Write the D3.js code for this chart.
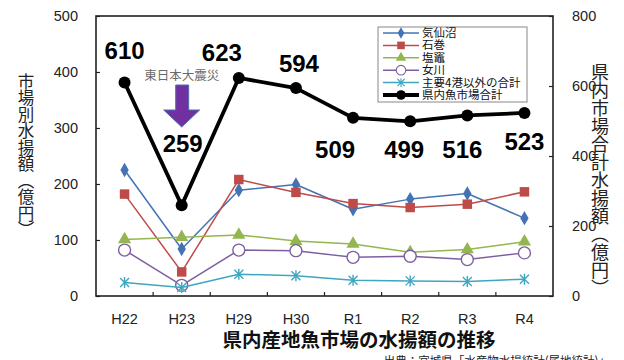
<!DOCTYPE html>
<html>
<head>
<meta charset="utf-8">
<script src="https://cdn.jsdelivr.net/npm/d3@7"></script>
<style>
  html, body { margin: 0; padding: 0; background: #fff; }
  svg { display: block; }
</style>
</head>
<body>
<svg id="chart" width="624" height="360"></svg>
<script>
// Fiscal years
const years = ["H22", "H23", "H29", "H30", "R1", "R2", "R3", "R4"];

// Landing value per market (億円), left axis
const kesennuma = [225, 84, 189, 199, 155, 173, 183, 139];
const ishinomaki = [182, 43, 208, 185, 165, 158, 164, 186];
const shiogama = [101, 105, 109, 98, 93, 78, 83, 97];
const onagawa = [82, 19, 82, 81, 69, 71, 65, 77];
const others = [24, 15, 39, 36, 28, 27, 26, 30];

// Prefecture-wide total (億円), right axis
const total = [610, 259, 623, 594, 509, 499, 516, 523];

const leftTicks = [0, 100, 200, 300, 400, 500];
const rightTicks = [0, 200, 400, 600, 800];

const seriesNames = ["気仙沼", "石巻", "塩竈", "女川", "主要4港以外の合計", "県内魚市場合計"];

// Offsets of the total value labels from their points
const labelDx = [0, 1, -17, 3, -18, -6, -5, 0];
const labelDy = [-24, -53, -17, -16, 40, 37, 43, 37];

const svg = d3.select("#chart");
const W = 624, H = 360;
const plot = { left: 96, right: 553, top: 16, bottom: 296 };

const x = d3.scaleBand().domain(years).range([plot.left, plot.right]).padding(0);
const yL = d3.scaleLinear().domain([0, 500]).range([plot.bottom, plot.top]);
const yR = d3.scaleLinear().domain([0, 800]).range([plot.bottom, plot.top]);
const cx = d => x(d) + x.bandwidth() / 2;

const latin = "'Liberation Sans', Arial, sans-serif";
const cjk = "'Noto Sans CJK JP', 'Noto Sans', sans-serif";

// Axes: ticks point into the plot area
const gL = svg.append("g").attr("transform", `translate(${plot.left},0)`)
  .call(d3.axisLeft(yL).tickValues(leftTicks).tickSize(-4).tickPadding(18));
const gR = svg.append("g").attr("transform", `translate(${plot.right},0)`)
  .call(d3.axisRight(yR).tickValues(rightTicks).tickSize(-4).tickPadding(19));
const gB = svg.append("g").attr("transform", `translate(0,${plot.bottom})`)
  .call(d3.axisBottom(x).tickSize(0).tickPadding(18));

[gL, gR, gB].forEach(g => {
  g.select(".domain").remove();
  g.selectAll("line").attr("stroke", "#222").attr("stroke-width", 1.2);
  g.selectAll("text").attr("font-family", latin).attr("font-size", 14.5).attr("fill", "#222");
});

// Category boundary ticks on the bottom edge
svg.append("g").selectAll("line")
  .data(years.slice(1))
  .join("line")
  .attr("x1", d => x(d)).attr("x2", d => x(d))
  .attr("y1", plot.bottom).attr("y2", plot.bottom - 4)
  .attr("stroke", "#222").attr("stroke-width", 1.2);

// Plot frame
svg.append("rect")
  .attr("x", plot.left).attr("y", plot.top)
  .attr("width", plot.right - plot.left).attr("height", plot.bottom - plot.top)
  .attr("fill", "none").attr("stroke", "#222").attr("stroke-width", 1.6);

// Axis titles (vertical writing)
svg.append("text")
  .attr("x", 26).attr("y", 73)
  .style("writing-mode", "vertical-rl")
  .attr("font-family", cjk).attr("font-size", 16.5).attr("fill", "#222")
  .text("市場別水揚額（億円）");
svg.append("text")
  .attr("x", 600).attr("y", 63)
  .style("writing-mode", "vertical-rl")
  .attr("font-family", cjk).attr("font-size", 18).attr("fill", "#222")
  .text("県内市場合計水揚額（億円）");

// Marker drawers
const markers = {
  diamond: (g, col) => g.append("path").attr("d", d3.symbol(d3.symbolDiamond, 60)()).attr("fill", col),
  square: (g, col) => g.append("path").attr("d", d3.symbol(d3.symbolSquare, 90)()).attr("fill", col),
  triangle: (g, col) => g.append("path").attr("d", d3.symbol(d3.symbolTriangle, 75)()).attr("fill", col),
  circle: (g, col) => g.append("circle").attr("r", 6).attr("fill", "#fff").attr("stroke", col).attr("stroke-width", 1.4),
  star: (g, col) => g.append("path").attr("d", "M-4.5,-4.5L4.5,4.5M-4.5,4.5L4.5,-4.5M0,-5.5L0,5.5")
      .attr("stroke", col).attr("stroke-width", 1.4).attr("fill", "none"),
  dot: (g, col) => g.append("circle").attr("r", 6).attr("fill", col)
};

const series = [
  { name: seriesNames[0], values: kesennuma, color: "#4373B5", marker: "diamond", scale: yL, width: 1.5 },
  { name: seriesNames[1], values: ishinomaki, color: "#BE4B48", marker: "square", scale: yL, width: 1.5 },
  { name: seriesNames[2], values: shiogama, color: "#94B650", marker: "triangle", scale: yL, width: 1.5 },
  { name: seriesNames[3], values: onagawa, color: "#7D5FA0", marker: "circle", scale: yL, width: 1.5 },
  { name: seriesNames[4], values: others, color: "#3FA6BF", marker: "star", scale: yL, width: 1.5 },
  { name: seriesNames[5], values: total, color: "#000", marker: "dot", scale: yR, width: 3.8 }
];

series.forEach(s => {
  const line = d3.line().x((d, i) => cx(years[i])).y(d => s.scale(d));
  svg.append("path").datum(s.values)
    .attr("d", line).attr("fill", "none")
    .attr("stroke", s.color).attr("stroke-width", s.width)
    .attr("stroke-linejoin", "round");
  s.values.forEach((v, i) => {
    const g = svg.append("g").attr("transform", `translate(${cx(years[i])},${s.scale(v)})`);
    markers[s.marker](g, s.color);
  });
});

// Total value labels
svg.append("g").selectAll("text")
  .data(total)
  .join("text")
  .attr("x", (d, i) => cx(years[i]) + labelDx[i])
  .attr("y", (d, i) => yR(d) + labelDy[i])
  .attr("text-anchor", "middle")
  .attr("font-family", latin).attr("font-weight", "bold").attr("font-size", 24)
  .attr("fill", "#000")
  .text(d => d);

// Earthquake annotation with arrow
const ax = cx("H23");
svg.append("text")
  .attr("x", ax).attr("y", 80)
  .attr("text-anchor", "middle")
  .attr("font-family", cjk).attr("font-size", 12.5).attr("fill", "#6a6a6a")
  .text("東日本大震災");
svg.append("path")
  .attr("d", `M${ax - 6},85 L${ax + 7},85 L${ax + 7},110 L${ax + 18},110 L${ax},127 L${ax - 18},110 L${ax - 6},110 Z`)
  .attr("fill", "#7030A0").attr("stroke", "#4F6FB5").attr("stroke-width", 1);

// Legend
const lg = svg.append("g");
lg.append("rect").attr("x", 378).attr("y", 27).attr("width", 149).attr("height", 75)
  .attr("fill", "#fff").attr("stroke", "#888").attr("stroke-width", 1);
series.forEach((s, i) => {
  const yy = 33 + i * 12.4;
  lg.append("line").attr("x1", 383).attr("x2", 419).attr("y1", yy).attr("y2", yy)
    .attr("stroke", s.color).attr("stroke-width", s.width);
  const m = lg.append("g").attr("transform", `translate(401,${yy}) scale(0.8)`);
  markers[s.marker](m, s.color);
  lg.append("text").attr("x", 422).attr("y", yy + 4)
    .attr("font-family", cjk).attr("font-size", 11.5).attr("fill", "#111")
    .text(s.name);
});

// Title and source
svg.append("text")
  .attr("x", 359).attr("y", 347)
  .attr("text-anchor", "middle")
  .attr("font-family", cjk).attr("font-weight", "bold").attr("font-size", 19.5).attr("fill", "#111")
  .text("県内産地魚市場の水揚額の推移");
svg.append("text")
  .attr("x", 610).attr("y", 365)
  .attr("text-anchor", "end")
  .attr("font-family", cjk).attr("font-size", 11.5).attr("fill", "#222")
  .text("出典：宮城県「水産物水揚統計(属地統計)」");
</script>
</body>
</html>
